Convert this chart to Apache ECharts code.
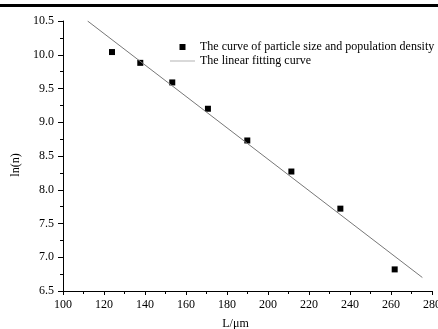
<!DOCTYPE html>
<html>
<head>
<meta charset="utf-8">
<script src="https://cdn.jsdelivr.net/npm/echarts@6/dist/echarts.min.js"></script>
<style>
  html, body { margin: 0; padding: 0; background: #fff; }
  #chart { width: 438px; height: 329px; }
</style>
</head>
<body>
<div id="chart"></div>
<script>
// Measured particle size L (μm) against ln(n) population density
const sizeL = [123.9, 137.7, 153.3, 170.7, 189.9, 211.4, 235.3, 261.8];
const lnN = [10.04, 9.88, 9.59, 9.20, 8.73, 8.27, 7.72, 6.82];

// Endpoints of the linear fit
const fitL = [112.0, 275.3];
const fitLnN = [10.50, 6.70];

// Axis ticks
const xTicks = [100, 120, 140, 160, 180, 200, 220, 240, 260, 280];
const yTicks = [6.5, 7.0, 7.5, 8.0, 8.5, 9.0, 9.5, 10.0, 10.5];

const seriesNames = ['The curve of particle size and population density', 'The linear fitting curve'];

const FONT = 'Liberation Serif';
const chart = echarts.init(document.getElementById('chart'));

chart.setOption({
  animation: false,
  backgroundColor: '#fff',
  textStyle: { fontFamily: FONT, color: '#000' },
  grid: { left: 63, right: 6, top: 21, bottom: 38, containLabel: false, outerBoundsMode: 'none' },
  legend: {
    left: 170, top: 41, orient: 'vertical', padding: 0,
    itemWidth: 25, itemHeight: 6, itemGap: 2,
    symbolKeepAspect: true,
    textStyle: { fontFamily: FONT, fontSize: 12, color: '#000' },
    data: [
      { name: seriesNames[0], icon: 'path://M0,0h1v1h-1z', itemStyle: { color: '#000', opacity: 1 } },
      { name: seriesNames[1], icon: 'path://M0,0h50v1h-50z', itemStyle: { color: '#666' } }
    ]
  },
  graphic: [
    { type: 'rect', left: 0, top: 4, shape: { width: 438, height: 3 }, style: { fill: '#000' }, silent: true }
  ],
  xAxis: {
    type: 'value', min: xTicks[0], max: xTicks[xTicks.length - 1], interval: 20,
    name: 'L/μm', nameLocation: 'middle', nameGap: 27,
    nameTextStyle: { fontFamily: FONT, fontSize: 12, color: '#000', padding: [0, 24, 0, 0] },
    axisLine: { lineStyle: { color: '#000', width: 1 } },
    axisTick: { show: true, inside: false, length: 4, lineStyle: { color: '#000' } },
    minorTick: { show: true, splitNumber: 2, length: 3, lineStyle: { color: '#000' } },
    splitLine: { show: false },
    axisLabel: { fontFamily: FONT, fontSize: 12, color: '#000', margin: 8 }
  },
  yAxis: {
    type: 'value', min: yTicks[0], max: yTicks[yTicks.length - 1], interval: 0.5,
    name: 'ln(n)', nameLocation: 'middle', nameGap: 29, nameRotate: 90,
    nameTextStyle: { fontFamily: FONT, fontSize: 12, color: '#000', padding: [0, 0, 0, -18] },
    axisLine: { show: true, lineStyle: { color: '#000', width: 1 } },
    axisTick: { show: true, inside: false, length: 5, lineStyle: { color: '#000' } },
    minorTick: { show: true, splitNumber: 2, length: 3, lineStyle: { color: '#000' } },
    splitLine: { show: false },
    axisLabel: {
      fontFamily: FONT, fontSize: 12, color: '#000', margin: 9,
      formatter: v => v.toFixed(1)
    }
  },
  series: [
    {
      name: seriesNames[0], type: 'scatter',
      symbol: 'rect', symbolSize: 6,
      itemStyle: { color: '#000', opacity: 1 },
      data: sizeL.map((x, i) => [x, lnN[i]])
    },
    {
      name: seriesNames[1], type: 'line',
      symbol: 'none', showSymbol: false,
      lineStyle: { color: '#777', width: 1 },
      itemStyle: { color: '#777' },
      data: fitL.map((x, i) => [x, fitLnN[i]])
    }
  ]
});
</script>
</body>
</html>
